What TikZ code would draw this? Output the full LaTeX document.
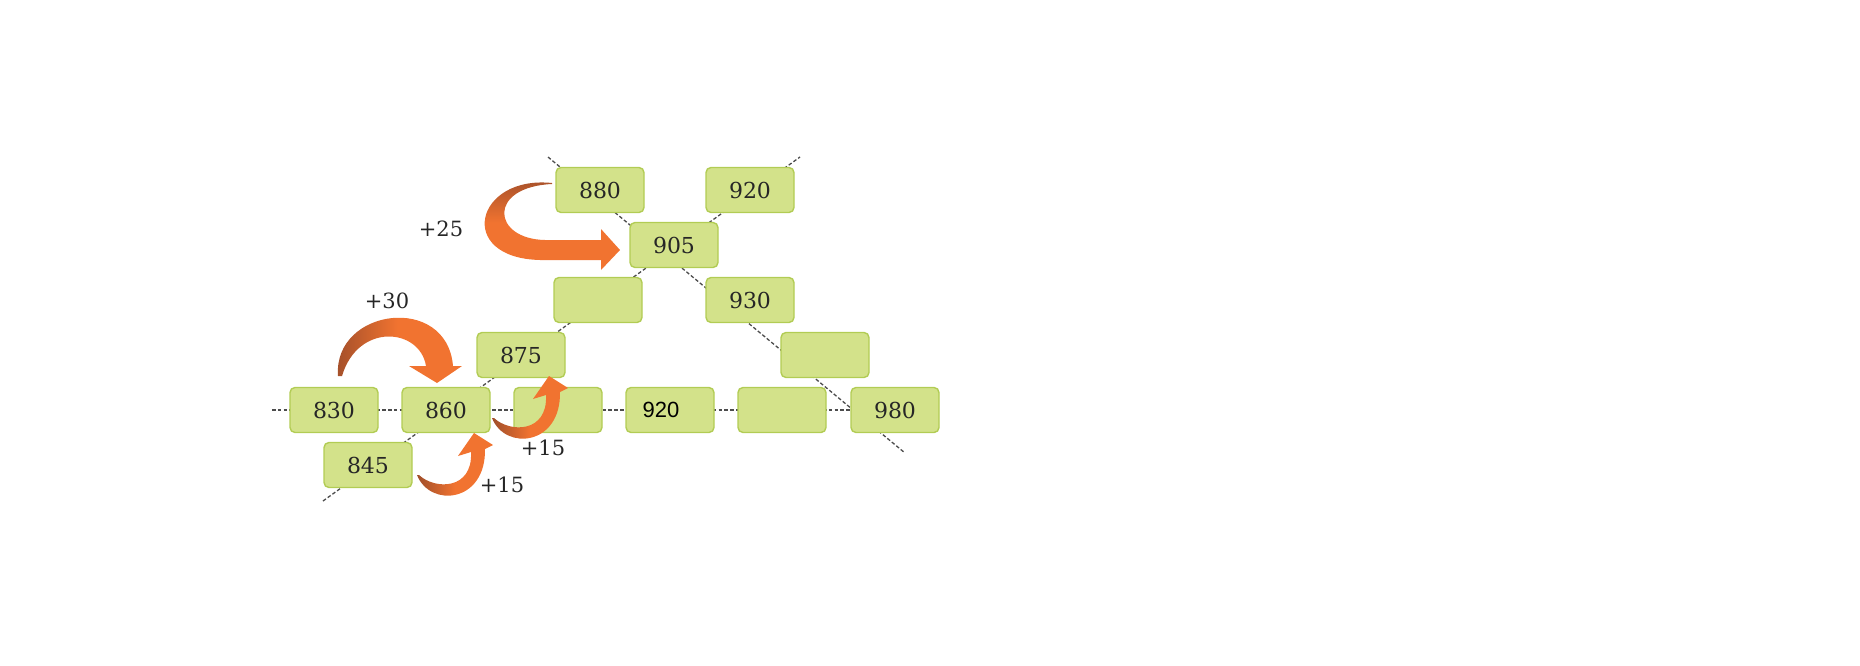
\documentclass[tikz,border=0pt]{standalone}
\usepackage{fontspec}
\setmainfont{DejaVu Serif}
\newfontfamily\arialfont{Liberation Sans}
\definecolor{box fill}{RGB}{211,226,138}
\definecolor{box edge}{RGB}{178,204,84}
\definecolor{arrow head}{RGB}{241,115,48}
\definecolor{arrow tail}{RGB}{160,78,42}
\colorlet{guide line}{black!70}
% curved arrow for +15, tail at (0,0)
\def\hookarrow{(0,0) .. controls (13,33) and (69,28) .. (68,-26) -- (76,-30) -- (57,-42) -- (41,-19) -- (54,-23) .. controls (56,15) and (18,15) .. (2,0) -- cycle}
\tikzset{numbox/.style={draw=box edge, fill=box fill, line width=0.7pt, rounded corners=2.5pt,
		minimum width=44pt, minimum height=22.5pt, inner sep=0pt,
		font=\fontsize{11}{13}\selectfont, text=black!85},
	guide/.style={draw=guide line, dash pattern=on 1.8pt off 1.1pt, line width=0.65pt},
	jump/.style={left color=arrow tail, right color=arrow head, middle color=arrow head},
	addlabel/.style={font=\fontsize{10.5}{12}\selectfont, text=black!85}}

\begin{document}
\begin{tikzpicture}[x=0.5pt,y=-0.5pt]
		\useasboundingbox (0,0) rectangle (1860,665);
		% guide lines
		\coordinate (h0) at (272,410);
		\coordinate (a0) at (323,501);
		\coordinate (a1) at (800,157);
		\coordinate (b0) at (548,157);
		\coordinate (b1) at (905,453);
		\draw[guide] (a0) -- (a1);
		\draw[guide] (b0) -- (b1);
		
		% boxes
		\node[numbox] (n880) at (600,190) {880};
		\node[numbox] (n920a) at (750,190) {920};
		\node[numbox] (n905) at (674,245) {905};
		\node[numbox] (e3) at (598,300) {};
		\node[numbox] (n930) at (750,300) {930};
		\node[numbox] (n875) at (521,355) {875};
		\node[numbox] (e4) at (825,355) {};
		\node[numbox] (n980) at (895,410) {980};
		\draw[guide] (h0) -- (n980.west);
		\node[numbox] (n830) at (334,410) {830};
		\node[numbox] (n860) at (446,410) {860};
		\node[numbox] (e5a) at (558,410) {};
		\node[numbox, font=\arialfont\fontsize{11}{13}\selectfont, text=black] (n920b) at (670,410) {\hspace*{-4.5pt}920\hspace*{4.5pt}};
		\node[numbox] (e5b) at (782,410) {};
		\node[numbox] (n845) at (368,465) {845};
		
		% arrows
		\shade[top color=arrow tail, bottom color=arrow head, middle color=arrow head]
			(552,183) .. controls (475,175) and (455,258) .. (540,260) -- (601,260) -- (601,270)
			-- (620,250) -- (601,229) -- (601,240) -- (545,240) .. controls (492,239) and (487,187) .. (552,184) -- cycle;
		\shade[jump] (338,376) .. controls (333,308) and (447,293) .. (453,366) -- (462,366) -- (437,383)
			-- (409,366) -- (426,366) .. controls (420,328) and (358,322) .. (342,376) -- cycle;
		\begin{scope}[shift={(492,418)}]
			\shade[jump] \hookarrow;
		\end{scope}
		\begin{scope}[shift={(417,475)}]
			\shade[jump] \hookarrow;
		\end{scope}
		
		% labels
		\node[addlabel] (l25) at (441,229) {+25};
		\node[addlabel] (l30) at (387,301) {+30};
		\node[addlabel] (l15a) at (543,448) {+15};
		\node[addlabel] (l15b) at (502,485) {+15};
\end{tikzpicture}
\end{document}
